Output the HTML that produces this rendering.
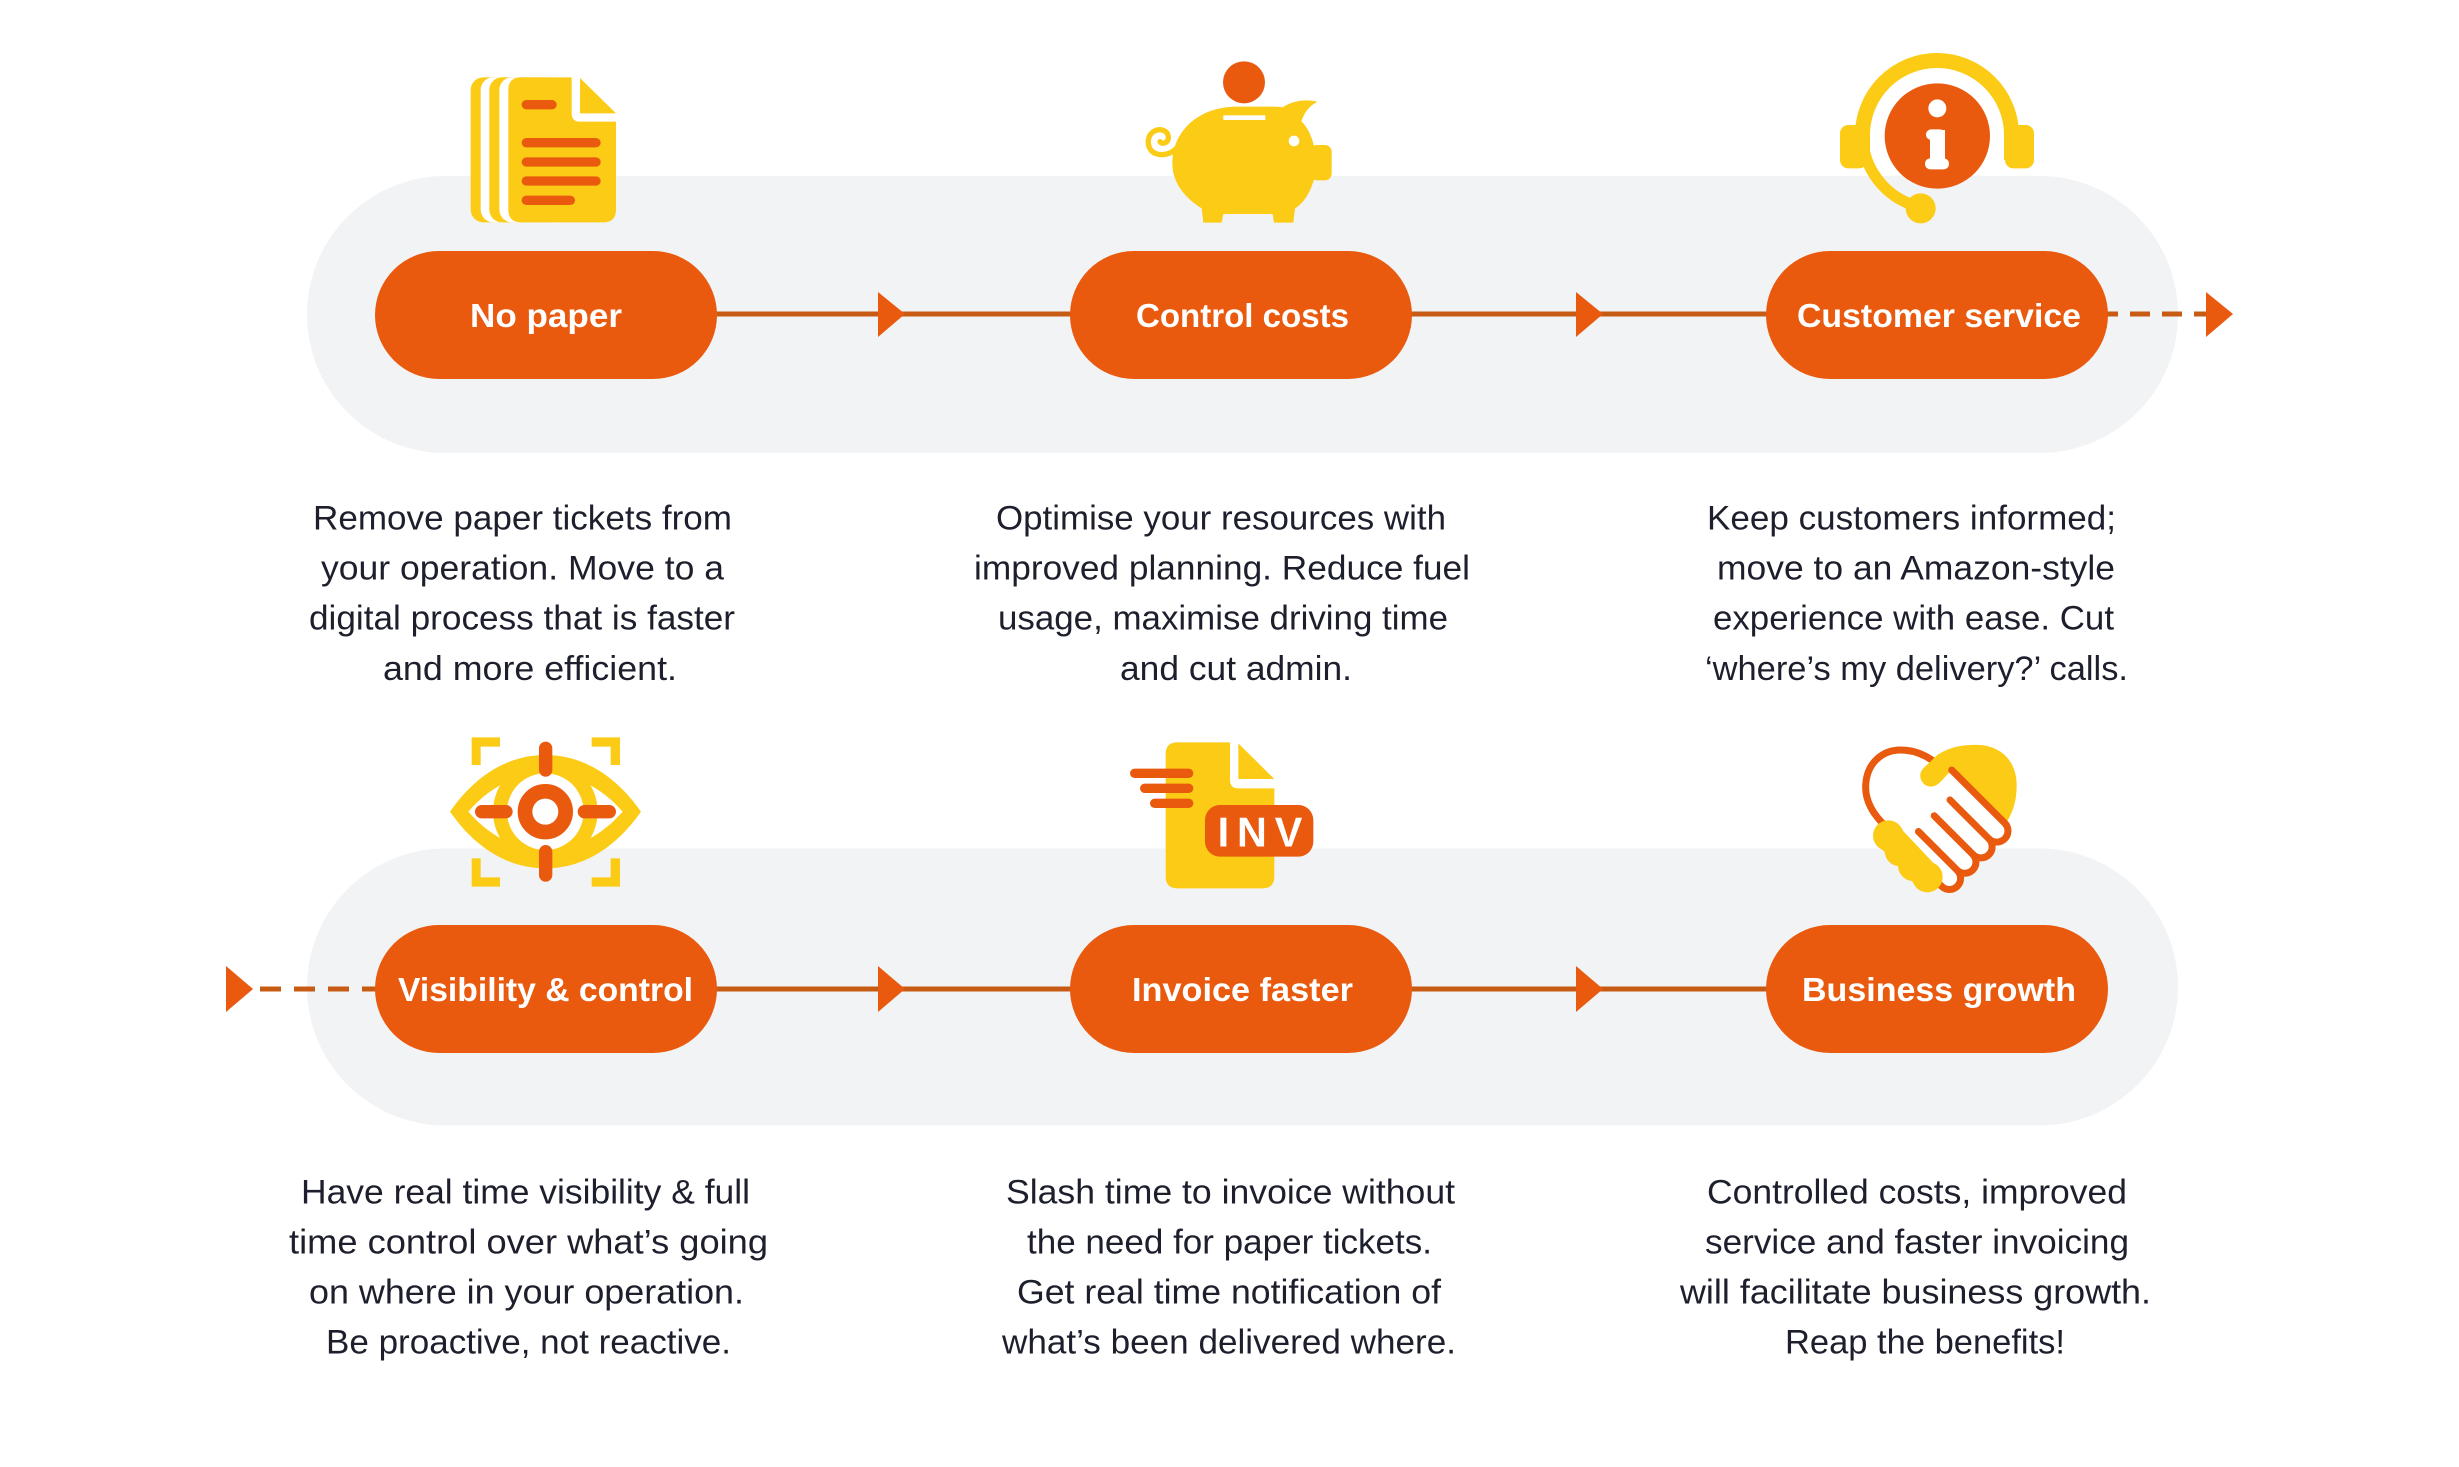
<!DOCTYPE html>
<html>
<head>
<meta charset="utf-8">
<style>
html,body{margin:0;padding:0;background:#ffffff;}
svg{display:block;}
</style>
</head>
<body>
<svg width="2459" height="1467" viewBox="0 0 2459 1467" xmlns="http://www.w3.org/2000/svg">
  <rect x="0" y="0" width="2459" height="1467" fill="#ffffff"/>

  <!-- Background bands -->
  <rect x="307" y="176" width="1871" height="277" rx="138.5" fill="#F2F3F5"/>
  <rect x="307" y="848.5" width="1871" height="277" rx="138.5" fill="#F2F3F5"/>

  <!-- Connectors -->
  <g stroke="#C75B14" stroke-width="5" fill="none">
    <line x1="710" y1="314" x2="1080" y2="314"/>
    <line x1="1405" y1="314" x2="1775" y2="314"/>
    <line x1="2098" y1="314" x2="2207" y2="314" stroke-dasharray="20 12"/>
    <line x1="700" y1="989" x2="1080" y2="989"/>
    <line x1="1405" y1="989" x2="1775" y2="989"/>
    <line x1="260" y1="989" x2="385" y2="989" stroke-dasharray="21 13"/>
  </g>
  <g fill="#E95A0F">
    <polygon points="878,292 905,314 878,337"/>
    <polygon points="1576,292 1603,314 1576,337"/>
    <polygon points="2206,292 2233,314 2206,337"/>
    <polygon points="878,966 905,989 878,1012"/>
    <polygon points="1576,966 1603,989 1576,1012"/>
    <polygon points="226,966 253,989 226,1012"/>
  </g>

  <!-- Pills -->
  <g fill="#E95A0F">
    <rect x="375" y="251" width="342" height="128" rx="64"/>
    <rect x="1070" y="251" width="342" height="128" rx="64"/>
    <rect x="1766" y="251" width="342" height="128" rx="64"/>
    <rect x="375" y="925" width="342" height="128" rx="64"/>
    <rect x="1070" y="925" width="342" height="128" rx="64"/>
    <rect x="1766" y="925" width="342" height="128" rx="64"/>
  </g>

  <!-- Pill labels -->
  <g font-family="'Liberation Sans', Arial, sans-serif" font-size="33" font-weight="bold" fill="#ffffff">
    <text x="470" y="327" textLength="152" lengthAdjust="spacingAndGlyphs">No paper</text>
    <text x="1136" y="327" textLength="213" lengthAdjust="spacingAndGlyphs">Control costs</text>
    <text x="1797" y="327" textLength="284" lengthAdjust="spacingAndGlyphs">Customer service</text>
    <text x="398" y="1001" textLength="295" lengthAdjust="spacingAndGlyphs">Visibility &amp; control</text>
    <text x="1132" y="1001" textLength="221" lengthAdjust="spacingAndGlyphs">Invoice faster</text>
    <text x="1802" y="1001" textLength="274" lengthAdjust="spacingAndGlyphs">Business growth</text>
  </g>

  <!-- Description texts -->
  <g font-family="'Liberation Sans', Arial, sans-serif" font-size="34" fill="#1d1f2c">
    <text x="313" y="529.5" textLength="419" lengthAdjust="spacingAndGlyphs">Remove paper tickets from</text>
    <text x="321" y="579.6" textLength="403" lengthAdjust="spacingAndGlyphs">your operation. Move to a</text>
    <text x="309" y="629.7" textLength="426" lengthAdjust="spacingAndGlyphs">digital process that is faster</text>
    <text x="383" y="679.8" textLength="294" lengthAdjust="spacingAndGlyphs">and more efficient.</text>

    <text x="996" y="529.5" textLength="450" lengthAdjust="spacingAndGlyphs">Optimise your resources with</text>
    <text x="974" y="579.6" textLength="496" lengthAdjust="spacingAndGlyphs">improved planning. Reduce fuel</text>
    <text x="998" y="629.7" textLength="450" lengthAdjust="spacingAndGlyphs">usage, maximise driving time</text>
    <text x="1120" y="679.8" textLength="232" lengthAdjust="spacingAndGlyphs">and cut admin.</text>

    <text x="1707" y="529.5" textLength="409" lengthAdjust="spacingAndGlyphs">Keep customers informed;</text>
    <text x="1717" y="579.6" textLength="398" lengthAdjust="spacingAndGlyphs">move to an Amazon-style</text>
    <text x="1713" y="629.7" textLength="401" lengthAdjust="spacingAndGlyphs">experience with ease. Cut</text>
    <text x="1705" y="679.8" textLength="423" lengthAdjust="spacingAndGlyphs">&#8216;where&#8217;s my delivery?&#8217; calls.</text>

    <text x="301" y="1203.3" textLength="449" lengthAdjust="spacingAndGlyphs">Have real time visibility &amp; full</text>
    <text x="289" y="1253.4" textLength="479" lengthAdjust="spacingAndGlyphs">time control over what&#8217;s going</text>
    <text x="309" y="1303.5" textLength="435" lengthAdjust="spacingAndGlyphs">on where in your operation.</text>
    <text x="326" y="1353.6" textLength="405" lengthAdjust="spacingAndGlyphs">Be proactive, not reactive.</text>

    <text x="1006" y="1203.3" textLength="449" lengthAdjust="spacingAndGlyphs">Slash time to invoice without</text>
    <text x="1027" y="1253.4" textLength="405" lengthAdjust="spacingAndGlyphs">the need for paper tickets.</text>
    <text x="1017" y="1303.5" textLength="424" lengthAdjust="spacingAndGlyphs">Get real time notification of</text>
    <text x="1002" y="1353.6" textLength="454" lengthAdjust="spacingAndGlyphs">what&#8217;s been delivered where.</text>

    <text x="1707" y="1203.3" textLength="420" lengthAdjust="spacingAndGlyphs">Controlled costs, improved</text>
    <text x="1705" y="1253.4" textLength="424" lengthAdjust="spacingAndGlyphs">service and faster invoicing</text>
    <text x="1680" y="1303.5" textLength="471" lengthAdjust="spacingAndGlyphs">will facilitate business growth.</text>
    <text x="1785" y="1353.6" textLength="280" lengthAdjust="spacingAndGlyphs">Reap the benefits!</text>
  </g>

  <!-- Icon 1: documents -->
  <g transform="translate(440,50) scale(0.33333)">
    <rect x="92" y="82" width="220" height="435" rx="38" fill="#FBCB15"/>
    <rect x="122" y="82" width="220" height="435" rx="38" fill="#ffffff"/>
    <rect x="148" y="82" width="220" height="435" rx="38" fill="#FBCB15"/>
    <rect x="178" y="82" width="220" height="435" rx="38" fill="#ffffff"/>
    <path d="M243,82 L395,82 L395,190 Q395,215 420,215 L528,215 L528,479 Q528,517 490,517 L243,517 Q205,517 205,479 L205,120 Q205,82 243,82 Z" fill="#FBCB15"/>
    <polygon points="420,84 528,190 420,190" fill="#FBCB15"/>
    <g stroke="#E95A0F" stroke-width="28" stroke-linecap="round">
      <line x1="259" y1="164" x2="336" y2="164"/>
      <line x1="259" y1="278" x2="468" y2="278"/>
      <line x1="259" y1="336" x2="468" y2="336"/>
      <line x1="259" y1="393" x2="468" y2="393"/>
      <line x1="259" y1="451" x2="391" y2="451"/>
    </g>
  </g>

  <!-- Icon 2: piggy bank -->
  <g transform="translate(1140,40) scale(0.33333)">
    <circle cx="312" cy="127" r="63" fill="#E95A0F"/>
    <path d="M115,318 C100,340 70,350 45,340 C20,328 18,290 40,275 C60,262 85,272 85,292 C85,308 68,315 60,305" fill="none" stroke="#FBCB15" stroke-width="16" stroke-linecap="round"/>
    <path d="M97,370 C97,270 180,200 290,200 L400,200 C430,200 450,205 470,215 L485,245 C505,265 515,290 522,318 L522,418 C510,460 490,490 465,505 L460,548 L402,548 L398,522 L250,522 L245,548 L190,548 L185,505 C130,470 97,425 97,370 Z" fill="#FBCB15"/>
    <path d="M415,212 C445,185 490,175 532,185 C505,200 490,222 483,248 Z" fill="#FBCB15"/>
    <rect x="512" y="315" width="63" height="106" rx="20" fill="#FBCB15"/>
    <circle cx="462" cy="303" r="16" fill="#ffffff"/>
    <rect x="250" y="226" width="126" height="14" fill="#ffffff"/>
  </g>

  <!-- Icon 3: headset info -->
  <g transform="translate(1830,40) scale(0.33333)">
    <path d="M97.5,360 L97.5,285 A223.5,223.5 0 0 1 544.5,285 L544.5,360" fill="none" stroke="#FBCB15" stroke-width="45"/>
    <path d="M97.5,285 A223.5,223.5 0 0 0 255,497" fill="none" stroke="#FBCB15" stroke-width="34"/>
    <circle cx="272" cy="505" r="45" fill="#FBCB15"/>
    <rect x="30" y="255" width="82" height="130" rx="25" fill="#FBCB15"/>
    <rect x="525" y="255" width="87" height="130" rx="25" fill="#FBCB15"/>
    <circle cx="322" cy="288" r="158" fill="#E95A0F"/>
    <circle cx="322" cy="205" r="27" fill="#ffffff"/>
    <rect x="288" y="268" width="57" height="32" rx="16" fill="#ffffff"/>
    <rect x="300" y="270" width="45" height="105" fill="#ffffff"/>
    <rect x="285" y="355" width="72" height="33" rx="16" fill="#ffffff"/>
  </g>

  <!-- Icon 4: eye target -->
  <g transform="translate(440,730) scale(0.33333)">
    <g fill="#FBCB15">
      <path d="M95,105 L95,22 L180,22 L180,50 L122,50 L122,105 Z"/>
      <path d="M455,22 L540,22 L540,105 L512,105 L512,50 L455,50 Z"/>
      <path d="M95,385 L122,385 L122,442 L180,442 L180,470 L95,470 Z"/>
      <path d="M540,385 L540,470 L455,470 L455,442 L512,442 L512,385 Z"/>
      <path d="M30,245 C110,130 210,75 316,75 C422,75 522,130 603,245 C522,360 422,415 316,415 C210,415 110,360 30,245 Z"/>
    </g>
    <path d="M85,245 C150,170 230,130 316,130 C402,130 482,170 548,245 C482,320 402,360 316,360 C230,360 150,320 85,245 Z" fill="#ffffff"/>
    <circle cx="316" cy="245" r="157" fill="#FBCB15"/>
    <circle cx="316" cy="245" r="115" fill="#ffffff"/>
    <circle cx="316" cy="245" r="61" fill="none" stroke="#E95A0F" stroke-width="44"/>
    <g stroke="#E95A0F" stroke-width="40" stroke-linecap="round">
      <line x1="317" y1="55" x2="317" y2="120"/>
      <line x1="317" y1="365" x2="317" y2="435"/>
      <line x1="125" y1="245" x2="198" y2="245"/>
      <line x1="433" y1="245" x2="508" y2="245"/>
    </g>
  </g>

  <!-- Icon 5: INV document -->
  <g transform="translate(1125,735) scale(0.33333)">
    <path d="M157,22 L315,22 L315,135 Q315,160 340,160 L448,160 L448,425 Q448,460 413,460 L157,460 Q122,460 122,425 L122,57 Q122,22 157,22 Z" fill="#FBCB15"/>
    <polygon points="340,25 448,132 340,132" fill="#FBCB15"/>
    <g stroke="#E95A0F" stroke-width="28" stroke-linecap="round">
      <line x1="29" y1="115" x2="191" y2="115"/>
      <line x1="59" y1="160" x2="191" y2="160"/>
      <line x1="89" y1="205" x2="191" y2="205"/>
    </g>
    <rect x="240" y="210" width="325" height="155" rx="45" fill="#E95A0F"/>
    <text x="278" y="335" font-family="'Liberation Sans', Arial, sans-serif" font-weight="bold" font-size="124" fill="#ffffff" textLength="254" lengthAdjust="spacing">INV</text>
  </g>

  <!-- Icon 6: handshake -->
  <g transform="translate(1850,735) scale(0.33333)">
    <path d="M108,275 C60,230 42,185 48,140 C55,80 100,45 152,45 C190,45 222,58 250,78" fill="none" stroke="#E95A0F" stroke-width="21" stroke-linecap="round"/>
    <path d="M222,98 L262,60 C300,35 340,28 390,30 C460,35 500,85 500,150 C500,195 490,228 472,258 L305,105 L272,140 C255,160 228,160 216,140 C207,125 210,110 222,98 Z" fill="#FBCB15"/>
    <path d="M305,105 L464.1,264.1 A33.5,33.5 0 0 1 416.7,311.5 A33.5,33.5 0 0 1 369.3,358.9 A33.5,33.5 0 0 1 322,406.2 A33.5,33.5 0 0 1 274.6,453.6 L140,320 L200,220 Z" fill="#ffffff"/>
    <path d="M305,105 L464.1,264.1 A33.5,33.5 0 0 1 416.7,311.5 A33.5,33.5 0 0 1 369.3,358.9 A33.5,33.5 0 0 1 322,406.2 A33.5,33.5 0 0 1 274.6,453.6 L157.9,336.9" fill="none" stroke="#E95A0F" stroke-width="21" stroke-linecap="round" stroke-linejoin="round"/>
    <g stroke="#E95A0F" stroke-width="21" stroke-linecap="round">
      <line x1="300" y1="194.8" x2="416.7" y2="311.5"/>
      <line x1="252.6" y1="242.2" x2="369.3" y2="358.9"/>
      <line x1="205.3" y1="289.5" x2="322" y2="406.2"/>
    </g>
    <g fill="#FBCB15">
      <circle cx="115" cy="302" r="46"/>
      <circle cx="150" cy="348" r="46"/>
      <circle cx="190" cy="392" r="46"/>
      <circle cx="232" cy="426" r="46"/>
      <line x1="115" y1="302" x2="232" y2="426" stroke="#FBCB15" stroke-width="84"/>
    </g>
  </g>
</svg>
</body>
</html>
